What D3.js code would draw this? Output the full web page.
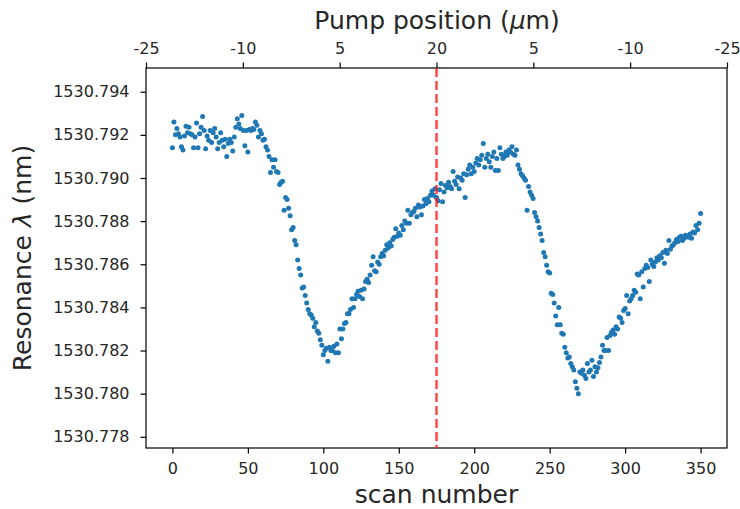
<!DOCTYPE html>
<html>
<head>
<meta charset="utf-8">
<script src="https://cdn.jsdelivr.net/npm/d3@7"></script>
<style>
  body { margin: 0; background: #fff; }
  svg text { font-family: "DejaVu Sans", sans-serif; fill: #262626; }
</style>
</head>
<body>
<div id="chart"></div>
<script>
// resonance wavelength (nm) for each scan
const resonance = [
  1530.7914, 1530.7926, 1530.7920, 1530.7923, 1530.79205, 1530.7919, 1530.79145, 1530.7913, 1530.79195, 1530.7924,
  1530.7921, 1530.79235, 1530.79205, 1530.7920, 1530.7914, 1530.7919, 1530.79255, 1530.7914, 1530.79205, 1530.79235,
  1530.79285, 1530.7922, 1530.79135, 1530.79195, 1530.79175, 1530.7922, 1530.79165, 1530.7921, 1530.7923, 1530.7919,
  1530.79135, 1530.79165, 1530.7921, 1530.79175, 1530.79145, 1530.7918, 1530.7910, 1530.7916, 1530.7918, 1530.79165,
  1530.79125, 1530.7919, 1530.79235, 1530.79275, 1530.7925, 1530.7923, 1530.7929, 1530.7922, 1530.7915, 1530.7922,
  1530.7912, 1530.79225, 1530.7922, 1530.7923, 1530.79225, 1530.7926, 1530.79245, 1530.7919, 1530.7922, 1530.79205,
  1530.79175, 1530.7918, 1530.79145, 1530.7913, 1530.7910, 1530.79025, 1530.79085, 1530.7905, 1530.79085, 1530.7903,
  1530.79025, 1530.7897, 1530.7898, 1530.78985, 1530.7885, 1530.7891, 1530.7890, 1530.7886, 1530.78825, 1530.7876,
  1530.7877, 1530.7871, 1530.7869, 1530.7862, 1530.7858, 1530.7855, 1530.7849, 1530.78495, 1530.78455, 1530.7842,
  1530.7839, 1530.7837, 1530.78365, 1530.7835, 1530.7831, 1530.7833, 1530.7829, 1530.7828, 1530.7825, 1530.78225,
  1530.7818, 1530.7820, 1530.7821, 1530.7815, 1530.78215, 1530.7820, 1530.7820, 1530.7822, 1530.7819, 1530.7823,
  1530.7819, 1530.7830, 1530.78255, 1530.7830, 1530.78325, 1530.7833, 1530.7837, 1530.7837, 1530.7839, 1530.7844,
  1530.7840, 1530.7844, 1530.7846, 1530.78475, 1530.7845, 1530.7848, 1530.7844, 1530.78485, 1530.7852, 1530.7853,
  1530.78515, 1530.7855, 1530.78595, 1530.78635, 1530.7857, 1530.78565, 1530.7861, 1530.7860, 1530.78635, 1530.7865,
  1530.7864, 1530.78665, 1530.7869, 1530.78675, 1530.7870, 1530.78685, 1530.78715, 1530.78725, 1530.78765, 1530.7873,
  1530.78745, 1530.78735, 1530.7878, 1530.7876, 1530.7880, 1530.7879, 1530.7885, 1530.7879, 1530.7883, 1530.7884,
  1530.78845, 1530.7886, 1530.7882, 1530.78875, 1530.78865, 1530.7883, 1530.7887, 1530.7890, 1530.7888, 1530.78905,
  1530.7889, 1530.7892, 1530.7894, 1530.7892, 1530.7895, 1530.7891, 1530.78895, 1530.78945, 1530.78975, 1530.7889,
  1530.78935, 1530.78965, 1530.78955, 1530.7898, 1530.7896, 1530.7895, 1530.7903, 1530.78985, 1530.7897, 1530.79005,
  1530.7895, 1530.7900, 1530.7899, 1530.7902, 1530.7891, 1530.79015, 1530.7904, 1530.7906, 1530.7902, 1530.7905,
  1530.7903, 1530.7907, 1530.7909, 1530.7906, 1530.79085, 1530.79105, 1530.7916, 1530.7905, 1530.7909, 1530.7911,
  1530.79075, 1530.7905, 1530.7910, 1530.7912, 1530.79035, 1530.7909, 1530.79035, 1530.7914, 1530.7911, 1530.7909,
  1530.7910, 1530.7912, 1530.79105, 1530.7913, 1530.7912, 1530.79145, 1530.7911, 1530.79105, 1530.7913, 1530.7906,
  1530.7904, 1530.7902, 1530.7901, 1530.7900, 1530.7899, 1530.7885, 1530.7896, 1530.78935, 1530.7892, 1530.78905,
  1530.7884, 1530.7882, 1530.7880, 1530.7877, 1530.7874, 1530.7871, 1530.78655, 1530.78635, 1530.78595, 1530.78565,
  1530.7856, 1530.78465, 1530.7846, 1530.7842, 1530.7836, 1530.7832, 1530.7840, 1530.7832, 1530.7828, 1530.78275,
  1530.78215, 1530.7819, 1530.78165, 1530.7817, 1530.7814, 1530.78125, 1530.7811, 1530.78055, 1530.78025, 1530.7800,
  1530.7810, 1530.78095, 1530.7811, 1530.78085, 1530.7807, 1530.7814, 1530.7810, 1530.7811, 1530.78155, 1530.7808,
  1530.78125, 1530.7810, 1530.7812, 1530.78145, 1530.7817, 1530.78225, 1530.7820, 1530.7820, 1530.7826, 1530.7820,
  1530.7827, 1530.78285, 1530.78295, 1530.78275, 1530.7831, 1530.7830, 1530.78355, 1530.7835, 1530.7833, 1530.78385,
  1530.78395, 1530.78455, 1530.7837, 1530.7843, 1530.7844, 1530.78455, 1530.7848, 1530.7847, 1530.78555, 1530.7855,
  1530.7844, 1530.78565, 1530.78495, 1530.7858, 1530.78595, 1530.78585, 1530.7852, 1530.7862, 1530.7860, 1530.7859,
  1530.7861, 1530.7863, 1530.7862, 1530.7864, 1530.7863, 1530.78655, 1530.78605, 1530.78665, 1530.7865, 1530.7871,
  1530.7867, 1530.78685, 1530.7869, 1530.7870, 1530.78715, 1530.78705, 1530.78725, 1530.7873, 1530.7871, 1530.7872,
  1530.78735, 1530.7873, 1530.78725, 1530.7874, 1530.7872, 1530.7875, 1530.78745, 1530.7878, 1530.7876, 1530.7879,
  1530.78835
];
const scans = d3.range(resonance.length);   // scan number 0..350

const xTicks = [0, 50, 100, 150, 200, 250, 300, 350];
const yTicks = [1530.778, 1530.780, 1530.782, 1530.784, 1530.786, 1530.788, 1530.790, 1530.792, 1530.794];
const pumpLabels = ["-25", "-10", "5", "20", "5", "-10", "-25"];
const centerScan = 175;

const W = 740, H = 509;
const margin = { top: 68, right: 13, bottom: 61, left: 146 };
const width = W - margin.left - margin.right;
const height = H - margin.top - margin.bottom;

const svg = d3.select("#chart").append("svg")
  .attr("width", W)
  .attr("height", H);

const g = svg.append("g")
  .attr("transform", `translate(${margin.left},${margin.top})`);

const x = d3.scaleLinear().domain([-17.5, 367.5]).range([0, width]);
const y = d3.scaleLinear().domain([1530.77748, 1530.79510]).range([height, 0]);
const xTop = d3.scaleLinear().domain([0, pumpLabels.length - 1]).range([0, width]);

// axes
const tickLen = 5.5;
const xAxis = g.append("g")
  .attr("transform", `translate(0,${height})`)
  .call(d3.axisBottom(x).tickValues(xTicks).tickSize(tickLen).tickPadding(9).tickFormat(d3.format("d")));

const yAxis = g.append("g")
  .call(d3.axisLeft(y).tickValues(yTicks).tickSize(tickLen).tickPadding(11).tickFormat(d3.format(".3f")));

const topAxis = g.append("g")
  .call(d3.axisTop(xTop).tickValues(d3.range(pumpLabels.length)).tickSize(tickLen).tickPadding(9)
    .tickFormat(i => pumpLabels[i]));

[xAxis, yAxis, topAxis].forEach(a => {
  a.select(".domain").remove();
  a.selectAll(".tick line").attr("stroke", "#000").attr("stroke-width", 1.2);
  a.selectAll(".tick text").style("font-size", "16px").attr("fill", "#262626");
});

// frame
g.append("rect")
  .attr("width", width)
  .attr("height", height)
  .attr("fill", "none")
  .attr("stroke", "#000")
  .attr("stroke-width", 1.2);

// data points
g.append("g").selectAll("circle")
  .data(scans)
  .enter().append("circle")
  .attr("cx", d => x(d))
  .attr("cy", d => y(resonance[d]))
  .attr("r", 2.5)
  .attr("fill", "#1f77b4");

// center line
g.append("line")
  .attr("x1", x(centerScan)).attr("x2", x(centerScan))
  .attr("y1", 0).attr("y2", height)
  .attr("stroke", "#ff2020")
  .attr("stroke-opacity", 0.85)
  .attr("stroke-width", 2.4)
  .attr("stroke-dasharray", "9,4");

// labels
svg.append("text")
  .attr("x", margin.left + width / 2)
  .attr("y", 503)
  .attr("text-anchor", "middle")
  .style("font-size", "25px")
  .text("scan number");

const yl = svg.append("text")
  .attr("transform", `translate(31,${margin.top + height / 2}) rotate(-90)`)
  .attr("text-anchor", "middle")
  .style("font-size", "25px");
yl.append("tspan").text("Resonance ");
yl.append("tspan").style("font-style", "italic").text("λ");
yl.append("tspan").text(" (nm)");

const tl = svg.append("text")
  .attr("x", 437)
  .attr("y", 29)
  .attr("text-anchor", "middle")
  .style("font-size", "25px");
tl.append("tspan").text("Pump position (");
tl.append("tspan").style("font-style", "italic").text("μ");
tl.append("tspan").text("m)");
</script>
</body>
</html>
